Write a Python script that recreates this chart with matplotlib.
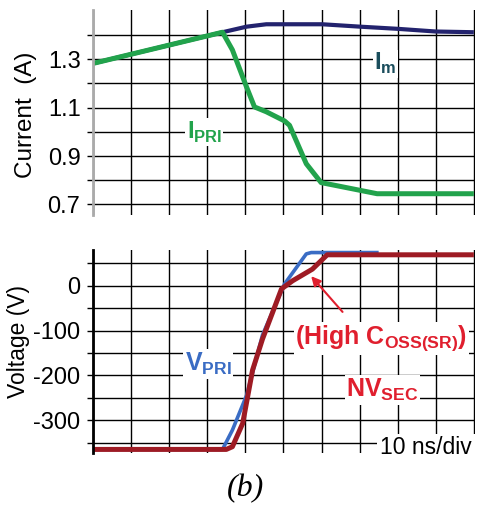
import matplotlib
matplotlib.use("Agg")
import matplotlib.pyplot as plt

plt.rcParams['font.family'] = ['Liberation Sans', 'DejaVu Sans']
plt.rcParams['mathtext.fontset'] = 'custom'
plt.rcParams['mathtext.rm'] = 'Liberation Sans'
plt.rcParams['mathtext.bf'] = 'Liberation Sans:bold'

# time in ns (10 ns/div)
t_im = [0, 34, 40.3, 45.5, 60.2, 70.2, 80.1, 90, 100]
im = [1.283, 1.412, 1.435, 1.445, 1.445, 1.435, 1.426, 1.415, 1.412]

t_ipri = [0, 34, 36.6, 40.3, 42.4, 45.5, 50.3, 51.6, 56, 59.9, 62.8, 74.6, 100]
ipri = [1.283, 1.412, 1.339, 1.186, 1.103, 1.083, 1.045, 1.027, 0.868, 0.790, 0.781, 0.744, 0.744]

t_vpri = [0, 34, 36.6, 40.3, 44.5, 48.4, 50.3, 56, 57.3, 75]
vpri = [-365, -365, -322, -245, -110, -33, 4, 71, 74, 74]

t_nvsec = [0, 35, 36.6, 39.3, 41.9, 44.5, 49.5, 52.4, 57.6, 61.5, 100]
nvsec = [-365, -365, -359, -307, -188, -119, -7, 11, 37, 69, 69]

x_grid = list(range(0, 101, 10))
cur_ticks = [0.7, 0.8, 0.9, 1.0, 1.1, 1.2, 1.3, 1.4]
cur_labels = ['0.7', '', '0.9', '', '1.1', '', '1.3', '']
volt_ticks = [-350, -300, -250, -200, -150, -100, -50, 0, 50]
volt_labels = ['', '-300', '', '-200', '', '-100', '', '0', '']

navy = '#23236e'
green = '#22a34c'
blue = '#3a6cc4'
dred = '#9e1b24'
red_txt = '#e01f2e'
box = dict(facecolor='white', edgecolor='none', pad=1)

W, H = 479, 507
fig = plt.figure(figsize=(W / 100, H / 100), dpi=100)
ax1 = fig.add_axes([93 / W, 1 - 215 / H, 382 / W, 205 / H])
ax2 = fig.add_axes([93 / W, 1 - 453 / H, 382 / W, 203 / H])

for ax, yt, yl, spc in [(ax1, cur_ticks, cur_labels, '#aaaaaa'),
                        (ax2, volt_ticks, volt_labels, 'black')]:
    ax.set_xlim(0, 100.3)
    ax.set_xticks(x_grid)
    ax.set_xticklabels([])
    ax.set_yticks(yt)
    ax.set_yticklabels(yl)
    ax.tick_params(axis='x', length=0)
    ax.tick_params(axis='y', length=4, width=1, color='black', labelsize=17, pad=5)
    ax.grid(True, color='black', lw=1)
    ax.set_axisbelow(True)
    for s in ['top', 'right', 'bottom']:
        ax.spines[s].set_visible(False)
    ax.spines['left'].set_color(spc)
    ax.spines['left'].set_linewidth(2)

ax1.set_ylim(0.656, 1.504)
ax2.set_ylim(-373, 79.7)

ax1.plot(t_im, im, color=navy, lw=3, solid_capstyle='butt')
ax1.plot(t_ipri, ipri, color=green, lw=3.6, solid_capstyle='butt')
ax1.text(73.8, 1.256, r'I$_{\mathbf{m}}$', color='#1a4d5c', fontsize=17,
         fontweight='bold', va='baseline', bbox=box)
ax1.text(24.6, 0.973, r'I$_{\mathbf{PRI}}$', color=green, fontsize=17,
         fontweight='bold', va='baseline', bbox=box)

ax2.plot(t_vpri, vpri, color=blue, lw=2.6, solid_capstyle='butt')
ax2.plot(t_nvsec, nvsec, color=dred, lw=3.6, solid_capstyle='butt')
ax2.annotate('', xy=(56.8, 26), xytext=(66, -63),
             arrowprops=dict(arrowstyle='-|>', color=red_txt, lw=1.5, mutation_scale=14))
ax2.text(53.1, -130, r'(High C$_{\mathbf{OSS(SR)}}$)', color=red_txt, fontsize=18,
         fontweight='bold', va='baseline', bbox=box)
ax2.text(66.5, -248, r'NV$_{\mathbf{SEC}}$', color=red_txt, fontsize=18,
         fontweight='bold', va='baseline', bbox=box)
ax2.text(24.1, -190, r'V$_{\mathbf{PRI}}$', color=blue, fontsize=18,
         fontweight='bold', va='baseline', bbox=box)
ax2.text(75.4, -376, '10 ns/div', color='black', fontsize=16.5,
         va='baseline', bbox=dict(facecolor='white', edgecolor='none', pad=2),
         clip_on=False)

fig.text(26 / W, 1 - 115 / H, 'Current  (A)', rotation=90, ha='center', va='center', fontsize=17.5)
fig.text(19 / W, 1 - 342 / H, 'Voltage (V)', rotation=90, ha='center', va='center', fontsize=16.5)
fig.text(245 / W, 1 - 489 / H, '(b)', ha='center', va='center', fontsize=23,
         family='Liberation Serif', style='italic')

fig.savefig('out.png', dpi=100)
